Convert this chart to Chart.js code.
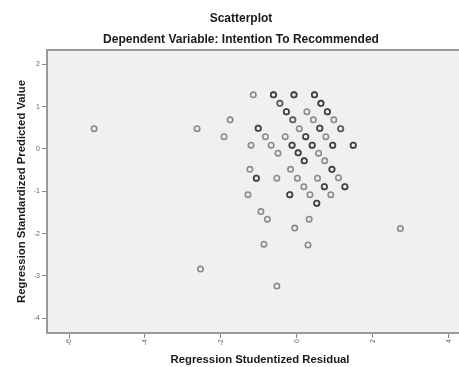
<!DOCTYPE html>
<html>
<head>
<meta charset="utf-8">
<script src="https://cdn.jsdelivr.net/npm/chart.js@4/dist/chart.umd.min.js"></script>
<style>
  html, body { margin: 0; padding: 0; background: #ffffff; overflow: hidden; width: 459px; height: 367px; }
  #wrap { width: 482px; height: 367px; }
</style>
</head>
<body>
<div id="wrap"><canvas id="c" width="482" height="367"></canvas></div>
<script>
// Regression Studentized Residual (x)
const residuals = [
  -1.15, -0.62, -0.08, 0.46, -0.45, 0.63, -0.28, 0.26, 0.80, -1.76,
  -0.11, 0.43, 0.97, -2.63, -1.02, 0.06, 0.60, 1.15, -1.92, -0.83,
  -0.31, 0.23, 0.76, -1.21, -0.68, -0.13, 0.40, 0.94, 1.48, -0.50,
  0.03, 0.57, 0.19, 0.73, -1.24, -0.17, 0.92, -1.07, -0.53, 0.01,
  0.54, 1.09, 0.18, 0.72, 1.26, -1.29, -0.19, 0.34, 0.89, 0.52,
  -0.95, -0.78, 0.32, -0.06, -0.87, 0.29, -2.54, -0.53, -5.34, 2.72
];
// Regression Standardized Predicted Value (y)
const predicted = [
  1.28, 1.28, 1.28, 1.28, 1.08, 1.08, 0.88, 0.88, 0.88, 0.69,
  0.69, 0.69, 0.69, 0.48, 0.49, 0.48, 0.49, 0.48, 0.29, 0.29,
  0.29, 0.29, 0.29, 0.09, 0.09, 0.09, 0.09, 0.09, 0.09, -0.10,
  -0.09, -0.10, -0.28, -0.28, -0.48, -0.48, -0.48, -0.69, -0.69, -0.69,
  -0.69, -0.68, -0.89, -0.89, -0.89, -1.08, -1.08, -1.08, -1.08, -1.28,
  -1.48, -1.66, -1.66, -1.87, -2.25, -2.27, -2.84, -3.24, 0.48, -1.88
];
// number of cases plotted on the same spot (darker rings)
const overlap = [
  1, 3, 3, 3, 2, 3, 3, 1, 3, 1,
  2, 1, 1, 1, 3, 1, 3, 2, 1, 1,
  1, 3, 1, 1, 1, 3, 3, 3, 3, 1,
  3, 1, 3, 1, 1, 1, 3, 3, 1, 1,
  1, 1, 1, 3, 3, 1, 3, 1, 1, 3,
  1, 1, 1, 1, 1, 1, 1, 1, 1, 1
];
const xTicks = [-6, -4, -2, 0, 2, 4];
const yTicks = [-4, -3, -2, -1, 0, 1, 2];

const points = [];
residuals.forEach((x, i) => {
  for (let k = 0; k < overlap[i]; k++) points.push({ x: x, y: predicted[i] });
});

const FONT = '"Liberation Sans", Arial, sans-serif';

const plotBg = {
  id: 'plotBg',
  afterLayout(chart) {
    // center the two title lines on the full canvas width
    chart.boxes.forEach(b => {
      if (!b.axis && b.options && b.options.position === 'top') {
        b.left = 0;
        b.right = chart.width;
      }
    });
  },
  beforeDraw(chart) {
    const a = chart.chartArea, ctx = chart.ctx;
    ctx.save();
    ctx.fillStyle = '#f0f0f0';
    ctx.fillRect(a.left, a.top, a.right - a.left, a.bottom - a.top);
    ctx.restore();
  },
  afterDatasetsDraw(chart) {
    const a = chart.chartArea, ctx = chart.ctx;
    ctx.save();
    ctx.strokeStyle = '#9a9a9a';
    ctx.lineWidth = 2;
    ctx.strokeRect(a.left, a.top, a.right - a.left, a.bottom - a.top);
    ctx.restore();
  }
};

new Chart(document.getElementById('c'), {
  type: 'scatter',
  data: {
    datasets: [{
      data: points,
      pointStyle: 'circle',
      pointRadius: 2.7,
      pointBorderWidth: 1.6,
      pointBorderColor: 'rgba(45,45,45,0.52)',
      pointBackgroundColor: 'rgba(0,0,0,0)',
      pointHoverRadius: 2.7
    }]
  },
  options: {
    responsive: false,
    animation: false,
    layout: { padding: { left: 0, right: 9, top: 0, bottom: 0 } },
    plugins: {
      legend: { display: false },
      tooltip: { enabled: false },
      title: {
        display: true,
        text: 'Scatterplot',
        color: '#1a1a1a',
        font: { family: FONT, size: 12, weight: 'bold', lineHeight: 1.2 },
        padding: { top: 11, bottom: 2 }
      },
      subtitle: {
        display: true,
        text: 'Dependent Variable: Intention To Recommended',
        color: '#1a1a1a',
        font: { family: FONT, size: 12, weight: 'bold', lineHeight: 1.2 },
        padding: { top: 5.4, bottom: 2.8 }
      }
    },
    scales: {
      x: {
        type: 'linear',
        min: -6.579,
        max: 4.632,
        afterBuildTicks(scale) { scale.ticks = xTicks.map(v => ({ value: v })); },
        afterFit(scale) { scale.height = 34; },
        grid: { drawOnChartArea: false, drawTicks: true, tickLength: 5, color: '#888', lineWidth: 1 },
        border: { display: true, color: '#9a9a9a', width: 2 },
        ticks: { color: '#666', font: { family: FONT, size: 7 }, minRotation: 90, maxRotation: 90, padding: 1 },
        title: {
          display: true,
          text: 'Regression Studentized Residual',
          color: '#1a1a1a',
          font: { family: FONT, size: 11.3, weight: 'bold', lineHeight: 1.2 },
          padding: { top: 0, bottom: 0 }
        }
      },
      y: {
        type: 'linear',
        min: -4.35,
        max: 2.34,
        afterBuildTicks(scale) { scale.ticks = yTicks.map(v => ({ value: v })); },
        afterFit(scale) { scale.width = 47; },
        grid: { drawOnChartArea: false, drawTicks: true, tickLength: 5, color: '#888', lineWidth: 1 },
        border: { display: true, color: '#9a9a9a', width: 2 },
        ticks: { color: '#666', font: { family: FONT, size: 7 }, padding: 2 },
        title: {
          display: true,
          text: 'Regression Standardized Predicted Value',
          color: '#1a1a1a',
          font: { family: FONT, size: 11.3, weight: 'bold', lineHeight: 1.2 },
          padding: { top: 15.2, bottom: 0 }
        }
      }
    }
  },
  plugins: [plotBg]
});
</script>
</body>
</html>
